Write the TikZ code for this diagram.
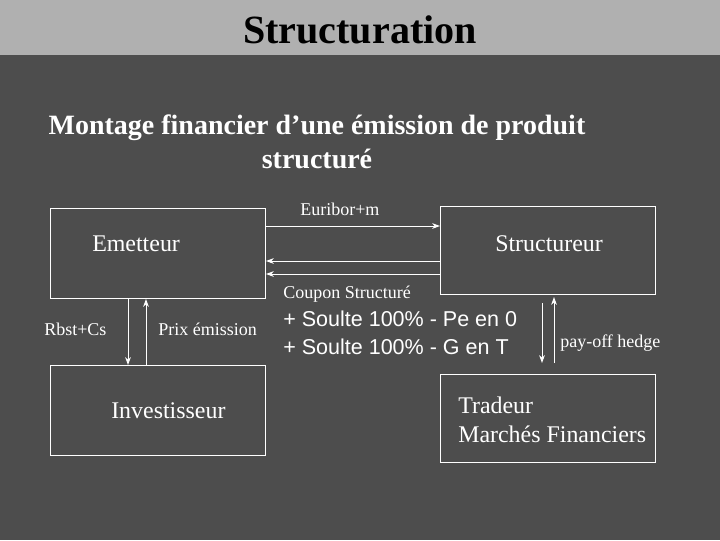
\documentclass[tikz,border=0pt]{standalone}
\usepackage{fontspec}
\setmainfont{Liberation Serif}
\newfontfamily\soultefont{Liberation Sans}
\usetikzlibrary{arrows.meta}
\definecolor{slidebg}{RGB}{77,77,77}
\definecolor{headbg}{RGB}{176,176,176}

\begin{document}
\begin{tikzpicture}[x=0.025cm,y=-0.025cm,>={Stealth[length=5.5pt,width=4pt,inset=1.6pt]},
  box/.style={draw=white,line width=0.7pt,minimum width=215*0.025cm,minimum height=90*0.025cm,inner sep=0pt,anchor=north west},
  flow/.style={->,white,line width=0.7pt},
  boxtext/.style={white,anchor=base west,inner sep=0pt,font=\fontsize{17}{20.6}\selectfont},
  smalltext/.style={white,anchor=base west,inner sep=0pt,font=\fontsize{12.8}{15}\selectfont}]
  \useasboundingbox (0,0) rectangle (720,540);
  \fill[slidebg] (0,0) rectangle (720,540);
  \fill[headbg] (0,0) rectangle (720,55);
  \node[anchor=base,inner sep=0pt,font=\fontsize{28.5}{32}\selectfont\bfseries] (title) at (360,43) {Structuration};
  % multi-line nodes: base is the last line
  \node[anchor=base,inner sep=0pt,white,align=center,font=\fontsize{19.9}{23.5}\selectfont\bfseries] (subtitle) at (317,168)
    {Montage financier d’une émission de produit\\structuré};
  % boxes
  \node[box] (emet) at (50,208) {};
  \node[box,minimum height=88*0.025cm] (struc) at (440,206) {};
  \node[box] (inv) at (50,365) {};
  \node[box,minimum height=88*0.025cm] (trad) at (440,374) {};
  \node[boxtext] (emettxt) at (92,251) {Emetteur};
  \node[boxtext] (structxt) at (495,251) {Structureur};
  \node[boxtext] (invtxt) at (111,418) {Investisseur};
  \node[boxtext,align=left] (tradtxt) at (458,442) {Tradeur\\Marchés Financiers};
  % flows
  \draw[flow] (emet.east |- 0,226) -- (struc.west |- 0,226);
  \draw[flow] (struc.west |- 0,261) -- (emet.east |- 0,261);
  \draw[flow] (struc.west |- 0,274) -- (emet.east |- 0,274);
  \draw[flow] (emet.south -| 128,0) -- (inv.north -| 128,0);
  \draw[flow] (inv.north -| 146,0) -- (emet.south -| 146,0);
  \coordinate (hedgetop) at (542,303);
  \coordinate (hedgebot) at (542,363);
  \coordinate (hedgeup) at (554,297);
  \draw[flow] (hedgetop) -- (hedgebot);
  \draw[flow] (hedgebot -| hedgeup) -- (hedgeup);
  \node[smalltext] (euribor) at (300,215) {Euribor+m};
  \node[smalltext] (coupon) at (283,298) {Coupon Structuré};
  \node[white,anchor=base west,inner sep=0pt,align=left,font=\soultefont\fontsize{15.3}{19.9}\selectfont] (soulte) at (283,354)
    {+ Soulte 100\% - Pe en 0\\+ Soulte 100\% - G en T};
  \node[smalltext] (rbst) at (44,335) {Rbst+Cs};
  \node[smalltext] (prix) at (158,335) {Prix émission};
  \node[smalltext] (payoff) at (560,347) {pay-off hedge};
\end{tikzpicture}
\end{document}
